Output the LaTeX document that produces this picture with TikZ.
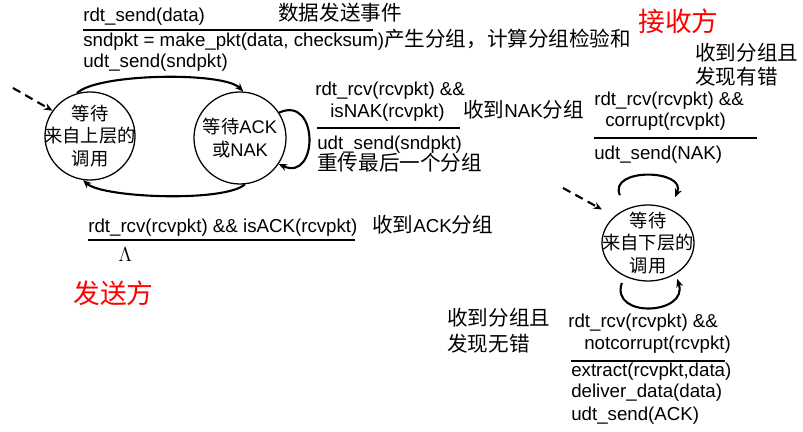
\documentclass[tikz,border=0pt]{standalone}
\usepackage{fontspec}
\setmainfont{Liberation Sans}
\newfontfamily\cjk[Scale=1.1]{Noto Sans CJK SC}
\newfontfamily\cjkin{Noto Sans CJK SC}
\newcommand{\zh}[1]{{\cjk #1}}
\newcommand{\zhin}[1]{{\cjkin #1}}
\usetikzlibrary{shapes.geometric,arrows.meta}
\definecolor{SideRed}{HTML}{FF0000}

\begin{document}
\begin{tikzpicture}[
    x=0.025cm, y=-0.025cm,
    font=\fontsize{13.3}{16}\selectfont,
    every node/.style={
        anchor=base west,
        inner sep=0pt
    },
    waitstate/.style={
        ellipse,
        draw,
        line width=0.9pt,
        anchor=center
    },
    statetext/.style={
        anchor=center,
        align=center,
        font=\fontsize{13}{16}\selectfont
    },
    trans/.style={
        line width=1.5pt,
        -{Stealth[length=6pt,width=5pt]}
    },
    initarrow/.style={
        trans,
        dash pattern=on 6pt off 4pt
    },
    bar/.style={
        line width=1.6pt
    },
    side/.style={
        text=SideRed,
        font=\fontsize{17.3}{20}\selectfont\cjk
    }
]
\useasboundingbox (0,0) rectangle (803,432);

\node[waitstate, minimum width=2.25cm, minimum height=2.2cm,
    label={[statetext]center:\zhin{等待}\\\zhin{来自上层的}\\\zhin{调用}}] (A) at (90,136) {};
\node[waitstate, minimum width=2.3cm, minimum height=2.3cm,
    label={[statetext]center:\zhin{等待}ACK\\\zhin{或}NAK}] (B) at (240,138) {};
\node[waitstate, minimum width=2.3cm, minimum height=1.9cm,
    label={[statetext]center:\zhin{等待}\\\zhin{来自下层的}\\\zhin{调用}}] (C) at (648,243) {};

\coordinate (initA) at (13,88);
\coordinate (initC) at (563,188);

\draw[initarrow] (initA) -- (A.146);
\draw[initarrow] (initC) -- ([xshift=-7.8pt,yshift=5.7pt]C.144);

\draw[trans] (A.107) .. controls +(20,-20) and +(-20,-20) .. (B.86);
\draw[trans] (B.276) .. controls +(-20,18) and +(20,18) .. (A.261);
\draw[trans] (B.33) .. controls +(40,-18) and +(40,18) .. (B.326);
\draw[trans] ([xshift=-5.7pt,yshift=9.2pt]C.120) .. controls +(-12,-28) and +(12,-28) .. ([xshift=5pt,yshift=7.8pt]C.60);
\draw[trans] ([xshift=-4.3pt,yshift=-3.6pt]C.240) .. controls +(-12,36) and +(12,36) .. ([xshift=6.4pt,yshift=-0.7pt]C.300);

\node (sendev) at (83,22) {rdt\_send(data)};
\node (sendzh) at (278,21) {\zh{数据发送事件}};
\draw[bar] (83,30) -- (373,30);
\node (sendact1) at (83,47) {sndpkt = make\_pkt(data, checksum)\zh{产生分组，计算分组检验和}};
\node (sendact2) at (83,68) {udt\_send(sndpkt)};

\node (nakev1) at (315,96) {rdt\_rcv(rcvpkt) \&\&};
\node (nakev2) at (330,118) {isNAK(rcvpkt)};
\draw[bar] (317,128) -- (460,128);
\node (nakact1) at (317,150) {udt\_send(sndpkt)};
\node (nakact2) at (317,171) {\zh{重传最后一个分组}};
\node (nakzh) at (463,118) {\zh{收到}NAK\zh{分组}};

\node (ackev) at (88,233) {rdt\_rcv(rcvpkt) \&\& isACK(rcvpkt)};
\draw[bar] (88,240) -- (355,240);
\node (ackact) at (118,262) {$\Lambda$};
\node (ackzh) at (372,233) {\zh{收到}ACK\zh{分组}};

\node[side] (sender) at (73,304) {发送方};
\node[side] (receiver) at (638,32) {接收方};

\node (errzh1) at (695,61) {\zh{收到分组且}};
\node (errzh2) at (695,85) {\zh{发现有错}};
\node (corev1) at (594,106) {rdt\_rcv(rcvpkt) \&\&};
\node (corev2) at (605,127) {corrupt(rcvpkt)};
\draw[bar] (594,138) -- (757,138);
\node (coract) at (594,160) {udt\_send(NAK)};

\node (okzh1) at (447,326) {\zh{收到分组且}};
\node (okzh2) at (447,352) {\zh{发现无错}};
\node (okev1) at (568,328) {rdt\_rcv(rcvpkt) \&\&};
\node (okev2) at (584,350) {notcorrupt(rcvpkt)};
\draw[bar] (571,361) -- (725,361);
\node (okact1) at (571,377) {extract(rcvpkt,data)};
\node (okact2) at (571,398) {deliver\_data(data)};
\node (okact3) at (571,420) {udt\_send(ACK)};

\end{tikzpicture}
\end{document}
